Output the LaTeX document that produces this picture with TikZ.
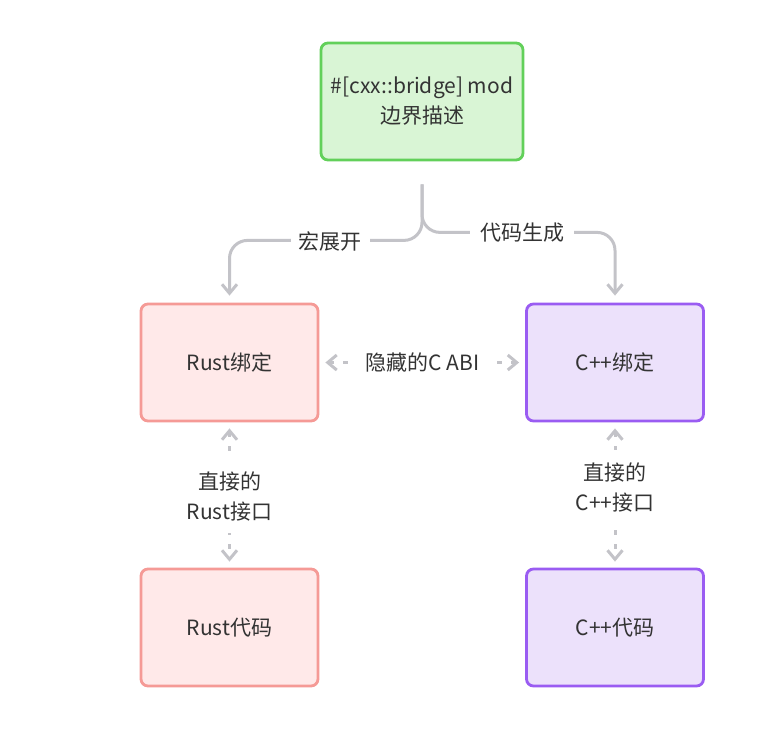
\documentclass[tikz,border=0pt]{standalone}
\usepackage{fontspec}
\setmainfont{Noto Sans CJK SC}
\usetikzlibrary{arrows.meta}
\definecolor{gfill}{HTML}{D9F5D5}
\definecolor{gline}{HTML}{62D05A}
\definecolor{rfill}{HTML}{FFE9E9}
\definecolor{rline}{HTML}{F59A96}
\definecolor{pfill}{HTML}{ECE1FB}
\definecolor{pline}{HTML}{9A5CF2}
\definecolor{cgray}{HTML}{C3C3C8}
\definecolor{txt}{HTML}{333333}
\tikzset{
  mytip/.tip={Straight Barb[length=9pt,width=15pt,line width=3pt]},
  box/.style={draw, line width=2.8pt, rounded corners=7pt, minimum width=177pt, minimum height=117pt, inner sep=0pt, align=center, text=txt, font=\fontsize{21}{30}\selectfont},
  gbox/.style={box, fill=gfill, draw=gline, minimum width=202pt},
  rbox/.style={box, fill=rfill, draw=rline},
  pbox/.style={box, fill=pfill, draw=pline},
  conn/.style={draw=cgray, line width=3pt, -{mytip}},
  dconn/.style={draw=cgray, line width=3pt, {mytip}-{mytip}, dash pattern=on 5pt off 9pt, shorten <=6pt, shorten >=6pt},
  lbl/.style={fill=white, text=txt, inner sep=4pt, align=center, font=\fontsize{21}{30}\selectfont},
  dlbl/.style={lbl, inner xsep=14pt, inner ysep=12pt},
}
\begin{document}
\begin{tikzpicture}[x=1pt,y=-1pt]
\useasboundingbox (0,0) rectangle (777,729);
\node[gbox] (top) at (422,101.5) {\#[cxx::bridge] mod\\边界描述};
\node[rbox] (rb) at (229.5,362.5) {Rust绑定};
\node[pbox] (cb) at (615,362.5) {C++绑定};
\node[rbox] (rc) at (229.5,627.5) {Rust代码};
\node[pbox] (cc) at (615,627.5) {C++代码};
\draw[conn, rounded corners=18pt, shorten <=23pt, shorten >=7pt] (top.south) -- ++(0,79) -| (rb.north);
\draw[conn, rounded corners=18pt, shorten <=23pt, shorten >=7pt] (top.south) -- ++(0,71) -| (cb.north);
\node[lbl, inner xsep=8pt] (l1) at (330,241) {宏展开};
\node[lbl, inner xsep=10pt] (l2) at (522,233) {代码生成};
\draw[dconn] (rb.east) -- node[dlbl]{隐藏的C ABI} (cb.west);
\draw[dconn] (rb.south) -- node[dlbl, pos=0.51]{直接的\\Rust接口} (rc.north);
\draw[dconn] (cb.south) -- node[dlbl, pos=0.445]{直接的\\C++接口} (cc.north);
\end{tikzpicture}
\end{document}
